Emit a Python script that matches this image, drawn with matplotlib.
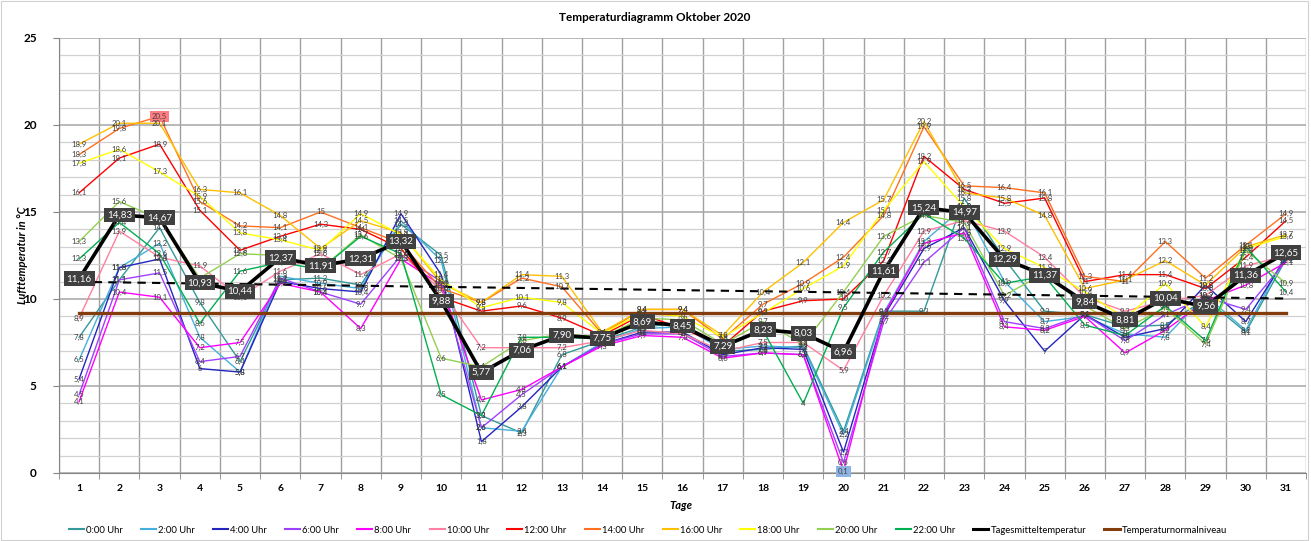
import numpy as np
import matplotlib.pyplot as plt
from matplotlib.lines import Line2D
from matplotlib.patches import Rectangle

plt.rcParams['font.family'] = ['Lato', 'DejaVu Sans']

# --- Daten: Lufttemperatur Oktober 2020 ---
tage = list(range(1, 32))

t00 = [7.8, 11.1, 14.1, 9.8, 6.4, 11.1, 11.2, 10.8, 14.3, 12.5, 3.3, 2.3, 6.8, 7.6, 8.4, 8.6,
       7.0, 7.1, 7.3, 2.4, 9.3, 9.3, 15.8, 12.3, 9.3, 9.1, 8.4, 8.5, 10.0, 8.1, 12.3]
t02 = [6.5, 11.8, 13.2, 7.8, 5.8, 11.3, 10.9, 10.6, 14.5, 12.2, 2.6, 2.4, 6.1, 7.5, 8.3, 8.4,
       7.1, 7.3, 7.2, 2.2, 9.2, 13.3, 15.3, 11.0, 8.7, 9.0, 8.0, 7.8, 10.2, 8.2, 12.6]
t04 = [5.4, 11.8, 12.3, 6.0, 5.8, 11.0, 10.6, 10.4, 14.9, 11.4, 1.8, 3.8, 6.1, 7.4, 8.1, 8.1,
       6.8, 7.2, 7.1, 1.2, 9.0, 12.9, 14.1, 9.9, 7.0, 9.1, 7.8, 8.3, 10.8, 8.7, 12.4]
t06 = [4.5, 11.1, 11.5, 6.4, 6.7, 11.2, 10.4, 9.7, 12.5, 11.0, 2.6, 4.5, 6.1, 7.4, 8.0, 8.0,
       6.7, 6.9, 6.8, 0.6, 8.7, 12.1, 14.1, 8.7, 8.3, 9.1, 7.6, 9.1, 10.1, 9.4, 12.2]
t08 = [4.1, 10.4, 10.1, 7.2, 7.5, 10.9, 10.4, 8.3, 12.3, 10.8, 4.2, 4.8, 6.1, 7.3, 7.9, 7.8,
       6.6, 6.9, 6.8, 0.1, 9.1, 13.2, 13.8, 8.4, 8.2, 9.0, 6.9, 8.2, 9.9, 10.8, 12.1]
t10 = [8.9, 13.9, 12.4, 11.9, 10.1, 11.6, 12.6, 11.4, 12.6, 10.5, 7.2, 7.2, 7.2, 7.6, 8.2, 8.0,
       7.0, 7.5, 7.5, 5.9, 10.2, 13.9, 14.5, 13.9, 12.4, 10.1, 9.3, 9.9, 10.2, 11.9, 12.5]
t12 = [16.1, 18.1, 18.9, 15.1, 12.8, 13.6, 14.3, 14.0, 12.9, 10.1, 9.3, 9.6, 8.9, 7.9, 9.1, 8.3,
       7.3, 9.3, 9.9, 10.0, 12.2, 18.2, 16.3, 15.5, 15.8, 11.0, 11.4, 11.4, 10.6, 12.4, 14.5]
t14 = [18.3, 19.8, 20.5, 15.6, 14.2, 14.1, 15.0, 14.1, 13.2, 10.6, 9.8, 11.2, 10.7, 8.0, 9.4, 9.4,
       7.7, 9.7, 10.9, 12.4, 14.8, 19.9, 16.5, 16.4, 16.1, 11.3, 11.0, 13.3, 11.2, 13.1, 14.9]
t16 = [18.9, 20.1, 20.1, 16.3, 16.1, 14.8, 12.9, 14.5, 13.8, 10.9, 9.8, 11.4, 11.3, 8.1, 9.4, 9.4,
       7.9, 10.4, 12.1, 14.4, 15.7, 20.2, 16.1, 15.8, 14.8, 10.6, 11.1, 12.2, 10.8, 13.0, 13.7]
t18 = [17.8, 18.6, 17.3, 15.9, 13.8, 13.4, 12.8, 14.9, 13.7, 11.1, 9.5, 10.1, 9.8, 8.0, 9.2, 9.0,
       7.8, 9.2, 10.6, 11.9, 15.1, 17.9, 15.3, 12.9, 11.8, 10.4, 8.9, 10.9, 8.4, 12.9, 13.6]
t20 = [13.3, 15.6, 14.6, 11.2, 12.6, 12.5, 11.7, 13.7, 12.3, 6.6, 6.1, 7.6, 8.0, 7.8, 8.9, 8.8,
       7.4, 8.7, 7.4, 10.4, 13.6, 14.8, 14.4, 10.2, 11.5, 9.6, 8.3, 9.5, 7.4, 12.8, 10.9]
t22 = [12.3, 14.4, 12.6, 8.6, 11.6, 12.1, 11.7, 13.6, 12.6, 4.5, 3.3, 7.8, 7.8, 7.7, 8.7, 8.5,
       7.2, 8.2, 4.0, 9.5, 12.7, 14.9, 13.5, 10.9, 11.3, 8.5, 7.9, 9.6, 7.6, 13.0, 10.4]

tagesmittel = [11.16, 14.83, 14.67, 10.93, 10.44, 12.37, 11.91, 12.31, 13.32, 9.88, 5.77, 7.06,
               7.90, 7.75, 8.69, 8.45, 7.29, 8.23, 8.03, 6.96, 11.61, 15.24, 14.97, 12.29, 11.37,
               9.84, 8.81, 10.04, 9.56, 11.36, 12.65]
normalniveau = 9.2

stunden = ['0:00 Uhr', '2:00 Uhr', '4:00 Uhr', '6:00 Uhr', '8:00 Uhr', '10:00 Uhr',
           '12:00 Uhr', '14:00 Uhr', '16:00 Uhr', '18:00 Uhr', '20:00 Uhr', '22:00 Uhr']
reihen = [t00, t02, t04, t06, t08, t10, t12, t14, t16, t18, t20, t22]
farben = ['#339999', '#45B0DC', '#2424C0', '#A040FF', '#FF00FF', '#FF80A0',
          '#FF0000', '#FF7020', '#FFC000', '#FFFF00', '#92D050', '#00B050']


def fmt(v):
    s = f"{v:.1f}"
    if s.endswith(".0"):
        s = s[:-2]
    return s.replace(".", ",")


fig = plt.figure(figsize=(13.11, 5.41), dpi=100)
ax = fig.add_axes([0.045, 0.1257, 0.9513, 0.8041])

x = np.array(tage)

# Gitter
ax.set_xlim(0.5, 31.5)
ax.set_ylim(0, 25)
ax.set_yticks(range(0, 26, 5))
ax.set_yticks(range(0, 26, 1), minor=True)
ax.set_xticks(tage)
ax.set_xticks(np.arange(0.5, 32, 1), minor=True)
ax.grid(which='minor', axis='y', color='#d0d0d0', lw=0.9, zorder=0)
ax.grid(which='major', axis='y', color='#a6a6a6', lw=1.1, zorder=0)
ax.grid(which='minor', axis='x', color='#a0a0a0', lw=1.0, zorder=0)
ax.set_axisbelow(True)
for s in ['top', 'right']:
    ax.spines[s].set_visible(False)
for s in ['left', 'bottom']:
    ax.spines[s].set_color('#868686')
ax.tick_params(axis='x', which='major', length=0, pad=8)
ax.tick_params(axis='x', which='minor', length=4, color='#868686')
ax.tick_params(axis='y', which='major', length=4, color='#868686', pad=12)
ax.tick_params(axis='y', which='minor', length=0)
for lab in ax.get_xticklabels():
    lab.set_fontweight('bold')
    lab.set_fontsize(7.5)
for lab in ax.get_yticklabels():
    lab.set_fontweight('bold')
    lab.set_fontsize(8.5)

# Stundenwerte
for name, werte, farbe in zip(stunden, reihen, farben):
    ax.plot(x, werte, color=farbe, lw=1.0, zorder=3)

# Normalniveau und Trend
ax.plot(x, [normalniveau] * len(x), color='#833C0B', lw=2.4, zorder=4)
k, d = np.polyfit(x, tagesmittel, 1)
ax.plot(x, k * x + d, color='black', lw=1.5, ls=(0, (4, 3)), zorder=4)

# Tagesmittel
ax.plot(x, tagesmittel, color='black', lw=2.6, zorder=5)

# Beschriftungen der Stundenwerte
alle = np.array(reihen)
vmax, vmin = alle.max(), alle.min()
for werte in reihen:
    for xi, v in zip(x, werte):
        box = None
        if v == vmax:
            box = dict(boxstyle='square,pad=0.25', fc='#FF7C80', ec='none')
        elif v == vmin:
            box = dict(boxstyle='square,pad=0.25', fc='#8DB4E2', ec='none')
        ax.text(xi, v, fmt(v), fontsize=5.6, color='#404040', ha='center', va='center',
                zorder=6, bbox=box)

for xi, v in zip(x, tagesmittel):
    ax.text(xi, v, f"{v:.2f}".replace(".", ","), fontsize=7, color='white',
            ha='center', va='center', zorder=7,
            bbox=dict(boxstyle='square,pad=0.3', fc='#404040', ec='none'))

# Texte
fig.text(0.4996, 0.967, 'Temperaturdiagramm Oktober 2020', ha='center', va='center',
         fontsize=8.5, fontweight='bold')
fig.text(0.0168, 0.529, 'Lufttemperatur in °C', ha='center', va='center', rotation=90,
         fontsize=8, fontweight='bold', style='italic')
fig.text(0.519, 0.0665, 'Tage', ha='center', va='center', fontsize=8,
         fontweight='bold', style='italic')

# Legende
handles = [Line2D([], [], color=f, lw=1.5) for f in farben]
handles.append(Line2D([], [], color='black', lw=2.2))
handles.append(Line2D([], [], color='#833C0B', lw=2.2))
labels = stunden + ['Tagesmitteltemperatur', 'Temperaturnormalniveau']
fig.legend(handles, labels, loc='center', bbox_to_anchor=(0.494, 0.0203), ncol=14,
           frameon=False, fontsize=6.8, handlelength=1.6, handletextpad=0.2,
           columnspacing=1.95)

fig.patches.append(Rectangle((0.001, 0.002), 0.997, 0.996, transform=fig.transFigure,
                             fill=False, edgecolor='#d0d0d0', lw=0.8))

fig.savefig('out.png', dpi=100)
